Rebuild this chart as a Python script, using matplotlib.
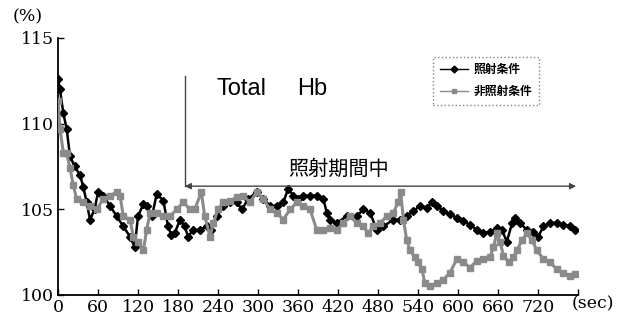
import matplotlib
matplotlib.use("Agg")
import matplotlib.pyplot as plt
from matplotlib.lines import Line2D

# ---- data ----
t_irr = [0, 3, 8, 13, 18, 25, 33, 38, 43, 48, 55, 60, 68, 78, 88, 98, 108, 115, 120, 128,
         133, 141, 148, 158, 165, 170, 175, 183, 190, 195, 203, 213, 223, 230, 238, 248, 258,
         268, 276, 285, 298, 308, 318, 328, 338, 345, 353, 360, 368, 378, 388, 398, 403, 408,
         418, 433, 448, 458, 468, 478, 488, 503, 513, 523, 533, 543, 553, 561, 568, 578, 588,
         598, 608, 618, 628, 638, 648, 658, 666, 673, 681, 686, 693, 703, 713, 720, 728, 738,
         748, 758, 768, 775]
v_irr = [112.6, 112.0, 110.6, 109.7, 108.1, 107.5, 107.0, 106.3, 105.4, 104.4, 105.0, 106.0,
         105.8, 105.2, 104.6, 104.0, 103.4, 102.8, 104.6, 105.3, 105.2, 104.6, 105.9, 105.5,
         104.0, 103.5, 103.6, 104.4, 104.0, 103.4, 103.8, 103.8, 104.0, 103.8, 104.6, 105.2,
         105.4, 105.4, 105.0, 105.6, 106.0, 105.6, 105.2, 105.2, 105.4, 106.2, 105.8, 105.6,
         105.8, 105.8, 105.8, 105.6, 104.8, 104.4, 104.2, 104.6, 104.6, 105.0, 104.8, 103.8,
         104.0, 104.4, 104.4, 104.6, 104.9, 105.2, 105.1, 105.4, 105.2, 104.9, 104.7, 104.5,
         104.3, 104.1, 103.8, 103.6, 103.7, 103.9, 103.8, 103.1, 104.2, 104.5, 104.2, 103.8,
         103.7, 103.4, 104.0, 104.2, 104.2, 104.1, 104.0, 103.8]

t_non = [0, 3, 8, 13, 18, 23, 28, 38, 48, 58, 68, 78, 88, 93, 98, 108, 113, 120, 128, 133,
         138, 148, 158, 168, 178, 188, 198, 205, 215, 220, 228, 233, 240, 248, 258, 268, 278,
         288, 298, 308, 318, 328, 338, 348, 358, 368, 378, 388, 398, 408, 418, 428, 438, 448,
         458, 465, 473, 483, 493, 503, 510, 514, 518, 523, 528, 535, 540, 546, 550, 558, 568,
         578, 588, 598, 608, 618, 628, 638, 648, 653, 658, 663, 668, 676, 683, 688, 696, 703,
         711, 718, 728, 738, 748, 758, 768, 775]
v_non = [111.3, 109.7, 108.3, 108.3, 107.4, 106.4, 105.6, 105.4, 105.2, 105.0, 105.6, 105.8,
         106.0, 105.8, 104.6, 104.4, 103.4, 103.1, 102.6, 103.8, 104.8, 104.8, 104.6, 104.6,
         105.0, 105.4, 105.0, 105.0, 106.0, 104.6, 103.4, 104.2, 105.0, 105.4, 105.5, 105.7,
         105.8, 105.4, 106.0, 105.6, 105.0, 104.8, 104.4, 105.0, 105.4, 105.2, 105.0, 103.8,
         103.8, 103.9, 103.8, 104.2, 104.6, 104.2, 104.0, 103.6, 104.0, 104.2, 104.6, 104.8,
         105.4, 106.0, 104.4, 103.2, 102.6, 102.2, 101.9, 101.5, 100.7, 100.5, 100.7, 100.9,
         101.3, 102.1, 101.9, 101.6, 102.0, 102.1, 102.2, 102.8, 103.6, 103.1, 102.3, 101.9,
         102.2, 102.6, 103.2, 103.6, 103.2, 102.6, 102.1, 101.9, 101.5, 101.3, 101.1, 101.2]

x_ticks = [0, 60, 120, 180, 240, 300, 360, 420, 480, 540, 600, 660, 720]
y_ticks = [100, 105, 110, 115]
labels = ["照射条件", "非照射条件"]
irr_start = 190
band_level = 106.35
line_top = 112.8
arrow_end = 777

# ---- figure ----
fig = plt.figure(figsize=(6.17, 3.22), dpi=100)
ax = fig.add_axes([0.094, 0.084, 0.843, 0.798])

gray = "#8a8a8a"
ax.plot(t_non, v_non, color=gray, lw=2.2, marker="s", ms=4.5, mfc=gray, mec=gray,
        label=labels[1], zorder=3)
ax.plot(t_irr, v_irr, color="black", lw=1.8, marker="D", ms=4.0, mfc="black", mec="black",
        label=labels[0], zorder=2)

ax.set_xlim(0, 780)
ax.set_ylim(100, 115)
ax.set_xticks(x_ticks + [780])
ax.set_xticklabels([str(v) for v in x_ticks] + [""])
ax.set_yticks(y_ticks)
ax.set_yticklabels([str(v) for v in y_ticks])
for s in ["top", "right"]:
    ax.spines[s].set_visible(False)
for s in ["left", "bottom"]:
    ax.spines[s].set_linewidth(1.3)
ax.tick_params(direction="in", length=4, width=1, pad=3)
for lab in ax.get_xticklabels() + ax.get_yticklabels():
    lab.set_fontfamily("DejaVu Serif")
    lab.set_fontsize(12.5)

ax.text(802, 100, "(sec)", fontfamily="DejaVu Serif", fontsize=12.5, ha="center",
        va="top", clip_on=False, transform=ax.transData)
ax.annotate("(%)", xy=(-0.058, 1.082), xycoords="axes fraction", fontfamily="DejaVu Serif",
            fontsize=12.5, ha="center", va="center", annotation_clip=False)

# irradiation marker
ax.plot([irr_start, irr_start], [band_level, line_top], color="#444444", lw=1.0)
ax.annotate("", xy=(arrow_end, band_level), xytext=(irr_start, band_level),
            arrowprops=dict(arrowstyle="<|-|>", color="#444444", lw=1.0,
                            mutation_scale=9, shrinkA=0, shrinkB=0))

ax.text(238, 112.0, "Total", fontfamily="Liberation Sans", fontsize=17, ha="left", va="center")
ax.text(358, 112.0, "Hb", fontfamily="Liberation Sans", fontsize=17, ha="left", va="center")
ax.text(345, 107.35, "照射期間中", fontfamily=["Noto Sans CJK JP", "DejaVu Sans"],
        fontsize=14.5, ha="left", va="center")

handles = [Line2D([], [], color="black", lw=1, marker="D", ms=3.5),
           Line2D([], [], color=gray, lw=1, marker="s", ms=3.5)]
leg = ax.legend(handles, labels, loc="upper left", bbox_to_anchor=(0.71, 0.95),
                prop={"family": ["Noto Sans CJK JP", "DejaVu Sans"], "size": 8.5,
                      "weight": "bold"},
                frameon=True, fancybox=False, handlelength=2.4, borderpad=0.55,
                labelspacing=0.75, handletextpad=0.5)
leg.get_frame().set_edgecolor("#666666")
leg.get_frame().set_linestyle(":")
leg.get_frame().set_linewidth(1.0)

fig.savefig("out.png", dpi=100)
